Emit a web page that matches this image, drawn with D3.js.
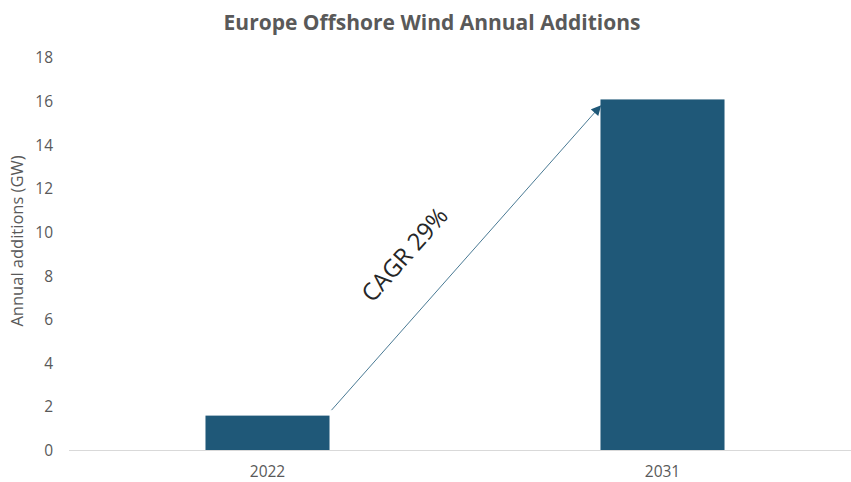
<!DOCTYPE html>
<meta charset="utf-8">
<title>Europe Offshore Wind Annual Additions</title>
<script src="https://cdn.jsdelivr.net/npm/d3@7"></script>
<style>
html, body {
    margin: 0;
    background: #fff;
}
text {
    font-family: "Open Sans", "DejaVu Sans", sans-serif;
}
</style>
<body>
<script>
var width = 851,
    height = 482;

// data
var years = ["2022", "2031"];
var additions = [1.6, 16.1];
var yTicks = [0, 2, 4, 6, 8, 10, 12, 14, 16, 18];
var cagrLabel = "CAGR 29%";
var arrowFrom = 1.85, arrowTo = 15.8;

var svg = d3.select("body").append("svg")
    .attr("width", width)
    .attr("height", height)
    .style("display", "block");

var x = d3.scaleBand()
    .domain(years)
    .range([70, 860])
    .paddingInner(0.686)
    .paddingOuter(0.343);

var y = d3.scaleLinear()
    .domain([0, 18])
    .range([450.5, 58]);

svg.append("text")
    .attr("x", 432)
    .attr("y", 30)
    .attr("text-anchor", "middle")
    .attr("font-size", 21)
    .attr("font-weight", "bold")
    .attr("fill", "#595959")
    .text("Europe Offshore Wind Annual Additions");

// y axis: labels only
var yAxis = svg.append("g")
    .attr("transform", "translate(61,0)")
    .call(d3.axisLeft(y).tickValues(yTicks).tickSize(0).tickPadding(8));
yAxis.select(".domain").remove();
yAxis.selectAll("text")
    .attr("font-size", 15.5)
    .attr("fill", "#595959")
    .style("font-family", "\"Open Sans\", sans-serif");

svg.append("text")
    .attr("transform", "translate(23,241) rotate(-90)")
    .attr("text-anchor", "middle")
    .attr("font-size", 16.5)
    .attr("fill", "#595959")
    .text("Annual additions (GW)");

// bars
svg.selectAll("rect.bar")
    .data(years)
    .enter().append("rect")
    .attr("class", "bar")
    .attr("x", function(d) { return x(d); })
    .attr("width", x.bandwidth())
    .attr("y", function(d, i) { return y(additions[i]); })
    .attr("height", function(d, i) { return y(0) - y(additions[i]); })
    .attr("fill", "#1f5878");

// x axis
var xAxis = svg.append("g")
    .attr("transform", "translate(0," + y(0) + ")")
    .call(d3.axisBottom(x).tickSize(0).tickPadding(15));
xAxis.select(".domain")
    .attr("stroke", "#d9d9d9")
    .attr("d", "M69,0H860");
xAxis.selectAll("text")
    .attr("font-size", 15.5)
    .attr("fill", "#595959")
    .style("font-family", "\"Open Sans\", sans-serif");

// CAGR arrow
svg.append("defs").append("marker")
    .attr("id", "head")
    .attr("viewBox", "0 0 10 10")
    .attr("refX", 9)
    .attr("refY", 5)
    .attr("markerWidth", 12)
    .attr("markerHeight", 10)
    .attr("markerUnits", "userSpaceOnUse")
    .attr("orient", "auto")
    .append("path")
    .attr("d", "M0,0L10,5L0,10Z")
    .attr("fill", "#1f5878");

var x0 = x("2022") + x.bandwidth() + 2,
    y0 = y(arrowFrom),
    x1 = x("2031"),
    y1 = y(arrowTo);

svg.append("line")
    .attr("x1", x0)
    .attr("y1", y0)
    .attr("x2", x1)
    .attr("y2", y1)
    .attr("stroke", "#4a7a94")
    .attr("stroke-width", 1)
    .attr("marker-end", "url(#head)");

var angle = Math.atan2(y1 - y0, x1 - x0) * 180 / Math.PI;

svg.append("text")
    .attr("transform", "translate(411,260) rotate(" + angle + ")")
    .attr("text-anchor", "middle")
    .attr("font-size", 24)
    .attr("fill", "#262626")
    .text(cagrLabel);
</script>
